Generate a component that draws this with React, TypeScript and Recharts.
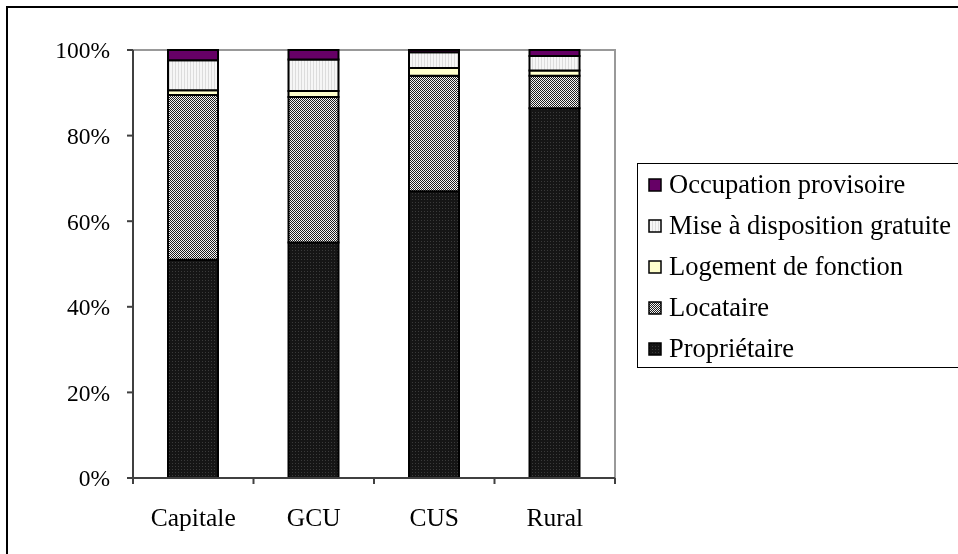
import React from 'react';
import { BarChart, Bar, XAxis, YAxis, Legend, ReferenceArea } from 'recharts';

const categories = ['Capitale', 'GCU', 'CUS', 'Rural'];
const proprietaire = [51, 55, 67, 86.4];
const locataire = [38.5, 34, 27, 7.6];
const logementFonction = [1.1, 1.4, 1.8, 1.2];
const miseDisposition = [7, 7.4, 3.7, 3.4];
const occupationProvisoire = [2.4, 2.2, 0.5, 1.4];
const yTicks = [0, 20, 40, 60, 80, 100];

const series = [
  { key: 'prop', name: 'Propriétaire', fill: 'url(#patProp)' },
  { key: 'loc', name: 'Locataire', fill: 'url(#patLoc)' },
  { key: 'log', name: 'Logement de fonction', fill: '#ffffcc' },
  { key: 'mise', name: 'Mise à disposition gratuite', fill: 'url(#patMise)' },
  { key: 'occ', name: 'Occupation provisoire', fill: '#660066' },
];

const data = categories.map((name, i) => ({
  name,
  prop: proprietaire[i],
  loc: locataire[i],
  log: logementFonction[i],
  mise: miseDisposition[i],
  occ: occupationProvisoire[i],
}));

const FONT = '"Liberation Serif", "Times New Roman", serif';
const PLOT_W = 482;
const BAND = PLOT_W / categories.length;
const LEGEND_W = 340;

function XTick(props: any) {
  const { x, y, payload, index } = props;
  return (
    <g>
      <line x1={x - BAND / 2} y1={y} x2={x - BAND / 2} y2={y + 6} stroke="#404040" strokeWidth={2} />
      {index === categories.length - 1 && (
        <line x1={x + BAND / 2} y1={y} x2={x + BAND / 2} y2={y + 6} stroke="#404040" strokeWidth={2} />
      )}
      <text x={x} y={y + 42} textAnchor="middle" dominantBaseline="middle" fontFamily={FONT} fontSize={25.5} fill="#000">
        {payload.value}
      </text>
    </g>
  );
}

function LegendBox() {
  const items = [...series].reverse();
  return (
    <div style={{ border: '1px solid #000', height: 205, boxSizing: 'border-box', background: '#fff', fontFamily: FONT }}>
      {items.map((s) => (
        <div key={s.key} style={{ height: 41, display: 'flex', alignItems: 'center', paddingLeft: 10 }}>
          <svg width={14} height={14} style={{ marginRight: 7, flexShrink: 0 }}>
            <rect x={1} y={1} width={12} height={12} fill={s.fill} stroke="#000" strokeWidth={1.5} />
          </svg>
          <span style={{ fontSize: 26.5, color: '#000', whiteSpace: 'nowrap' }}>{s.name}</span>
        </div>
      ))}
    </div>
  );
}

export default function App() {
  return (
    <div>
      <div style={{ position: 'fixed', left: 6, top: 6, width: 1000, height: 1000, border: '2px solid #000', boxSizing: 'border-box' }} />
      <div style={{ position: 'fixed', left: 0, top: 0 }}>
        <BarChart
          width={958}
          height={554}
          data={data}
          margin={{ top: 50, right: 958 - 615 - LEGEND_W, bottom: 36, left: 0 }}
          barSize={50}
        >
          <defs>
            <pattern id="patProp" width={3} height={3} patternUnits="userSpaceOnUse">
              <rect width={3} height={3} fill="#151515" />
              <rect x={1} y={1} width={1} height={1} fill="#3a3a3a" />
            </pattern>
            <pattern id="patLoc" width={2} height={2} patternUnits="userSpaceOnUse">
              <rect width={2} height={2} fill="#f4f4f4" />
              <rect x={0} y={0} width={1} height={1} fill="#1e1e1e" />
              <rect x={1} y={1} width={1} height={1} fill="#1e1e1e" />
            </pattern>
            <pattern id="patMise" width={3} height={3} patternUnits="userSpaceOnUse">
              <rect width={3} height={3} fill="#f6f6f6" />
              <rect x={1} y={0} width={1} height={3} fill="#dcdcdc" />
            </pattern>
          </defs>
          <ReferenceArea y1={0} y2={100} fill="none" stroke="#999" strokeWidth={2} ifOverflow="extendDomain" />
          <XAxis
            dataKey="name"
            tick={<XTick />}
            tickLine={false}
            tickSize={0}
            tickMargin={0}
            height={40}
            axisLine={{ stroke: '#404040', strokeWidth: 2 }}
            interval={0}
          />
          <YAxis
            domain={[0, 100]}
            ticks={yTicks}
            tickFormatter={(v: number) => `${v}%`}
            width={133}
            tickSize={6}
            tickMargin={17}
            axisLine={{ stroke: '#404040', strokeWidth: 2 }}
            tickLine={{ stroke: '#404040', strokeWidth: 2 }}
            tick={{ fill: '#000', fontSize: 23.5, fontFamily: FONT }}
          />
          {series.map((s) => (
            <Bar
              key={s.key}
              dataKey={s.key}
              name={s.name}
              stackId="a"
              fill={s.fill}
              stroke="#000"
              strokeWidth={2}
              isAnimationActive={false}
            />
          ))}
          <Legend
            content={<LegendBox />}
            layout="vertical"
            align="right"
            verticalAlign="middle"
            wrapperStyle={{ position: 'absolute', left: 637, top: 163, width: LEGEND_W }}
          />
        </BarChart>
      </div>
    </div>
  );
}
